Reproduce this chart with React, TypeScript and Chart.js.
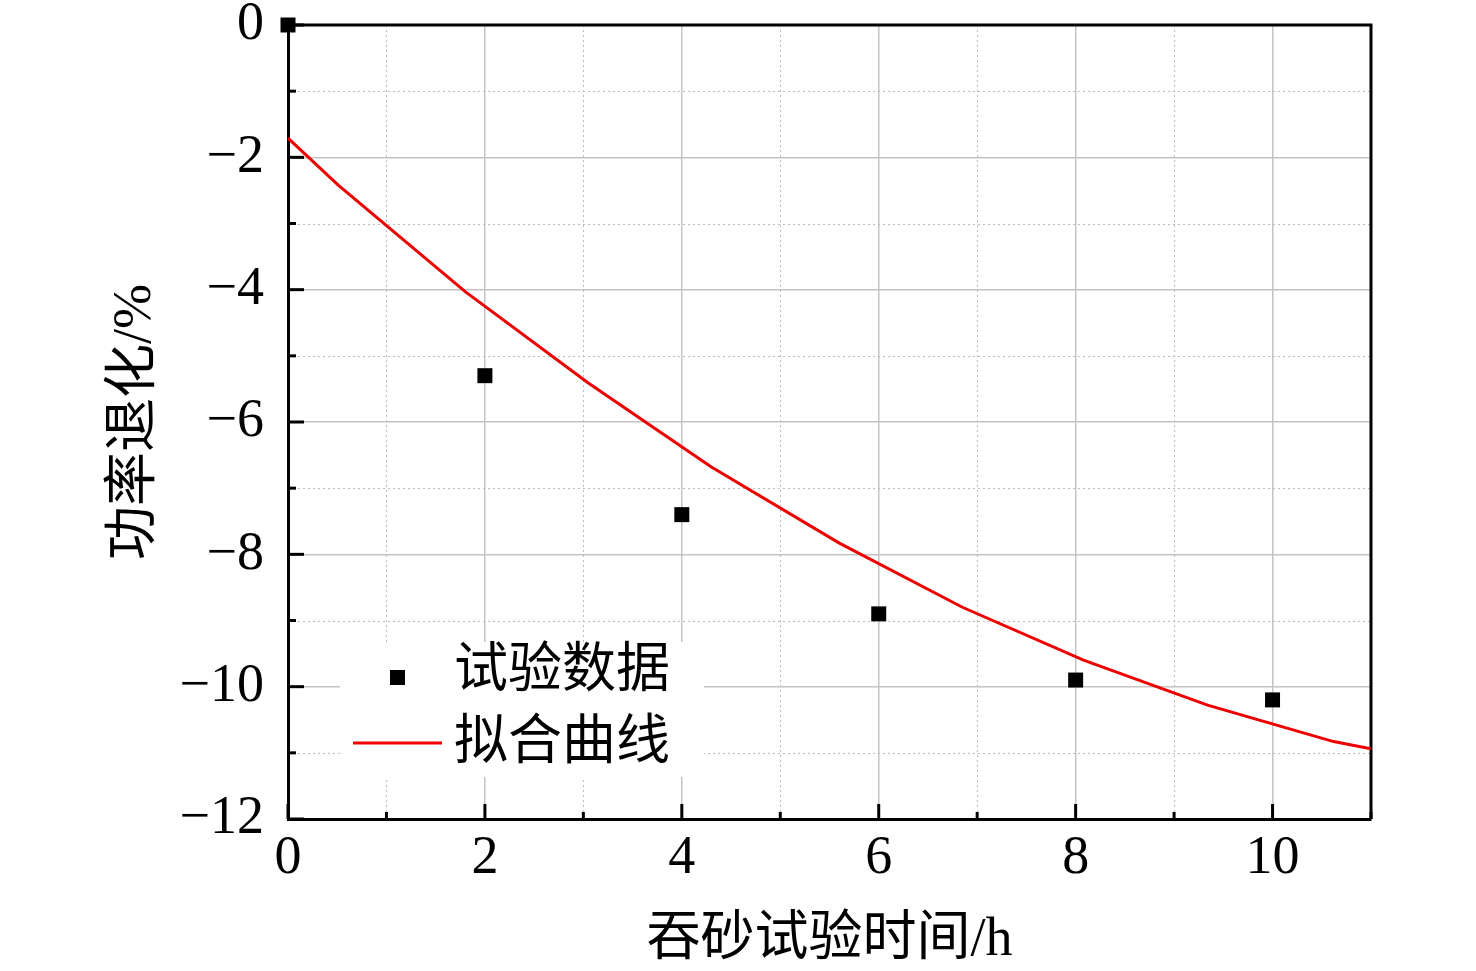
import { useEffect, useRef } from "react";
import { Chart, registerables } from "chart.js";

Chart.register(...registerables);

// test data (hours, degradation %)
const testHours = [0, 2, 4, 6, 8, 10];
const testDegradation = [0, -5.3, -7.4, -8.9, -9.9, -10.2];

// fitted curve
const fitHours = [0, 0.51, 1.8, 3.05, 4.3, 5.6, 6.85, 8.08, 9.34, 10.62, 11];
const fitDegradation = [-1.71, -2.42, -4.03, -5.41, -6.68, -7.83, -8.8, -9.6, -10.28, -10.83, -10.94];

const seriesLabels = ["试验数据", "拟合曲线"];
const xTitle = "吞砂试验时间/h";
const yTitle = "功率退化/%";

const FONT = '"Liberation Serif", "Noto Sans CJK SC", serif';
const RED = "#ee0000";
const GRID = "#c4c4c4";

const fmt = (v: number) => (v % 2 === 0 ? (v < 0 ? "\u2212" + Math.abs(v) : String(v)) : "");

const framePlugin = {
	id: "frame",
	beforeDatasetsDraw(chart: any) {
		const { ctx, chartArea: a, scales } = chart;
		const xs = scales.x;
		const ys = scales.y;
		ctx.save();

		// dotted minor grid
		ctx.strokeStyle = "#bbbbbb";
		ctx.lineWidth = 1;
		ctx.setLineDash([2, 3]);
		xs.ticks.forEach((t: any) => {
			if (t.value % 2 === 0) return;
			const px = Math.round(xs.getPixelForValue(t.value)) + 0.5;
			ctx.beginPath();
			ctx.moveTo(px, a.top);
			ctx.lineTo(px, a.bottom);
			ctx.stroke();
		});
		ys.ticks.forEach((t: any) => {
			if (t.value % 2 === 0) return;
			const py = Math.round(ys.getPixelForValue(t.value)) + 0.5;
			ctx.beginPath();
			ctx.moveTo(a.left, py);
			ctx.lineTo(a.right, py);
			ctx.stroke();
		});
		ctx.setLineDash([]);

		// top and right frame
		ctx.strokeStyle = "#000";
		ctx.lineWidth = 3;
		ctx.beginPath();
		ctx.moveTo(a.left, a.top);
		ctx.lineTo(a.right, a.top);
		ctx.lineTo(a.right, a.bottom);
		ctx.stroke();

		// inward ticks
		xs.ticks.forEach((t: any) => {
			const px = xs.getPixelForValue(t.value);
			const len = t.value % 2 === 0 ? 15 : 7;
			ctx.beginPath();
			ctx.moveTo(px, a.bottom);
			ctx.lineTo(px, a.bottom - len);
			ctx.stroke();
		});
		ys.ticks.forEach((t: any) => {
			const py = ys.getPixelForValue(t.value);
			const len = t.value % 2 === 0 ? 16 : 8;
			ctx.beginPath();
			ctx.moveTo(a.left, py);
			ctx.lineTo(a.left + len, py);
			ctx.stroke();
		});
		ctx.restore();
	},
	afterDatasetsDraw(chart: any) {
		const { ctx, chartArea: a } = chart;
		const ds = chart.data.datasets;
		ctx.save();
		ctx.fillStyle = "#fff";
		ctx.fillRect(a.left + 52, a.top + 617, 364, 135);

		// marker
		ctx.fillStyle = ds[0].backgroundColor;
		ctx.fillRect(a.left + 102, a.top + 645, 15, 15);
		// line
		ctx.strokeStyle = ds[1].borderColor;
		ctx.lineWidth = 3;
		ctx.beginPath();
		ctx.moveTo(a.left + 65, a.top + 718);
		ctx.lineTo(a.left + 154, a.top + 718);
		ctx.stroke();

		ctx.fillStyle = "#000";
		ctx.font = `54px ${FONT}`;
		ctx.textAlign = "left";
		ctx.textBaseline = "middle";
		ctx.fillText(ds[0].label, a.left + 166, a.top + 648);
		ctx.fillText(ds[1].label, a.left + 166, a.top + 720);
		ctx.restore();
	},
};

export default function App() {
	const canvasRef = useRef<HTMLCanvasElement>(null);

	useEffect(() => {
		document.body.style.margin = "0";
		if (!canvasRef.current) return;

		const chart = new Chart(canvasRef.current, {
			type: "scatter",
			data: {
				datasets: [
					{
						label: seriesLabels[0],
						data: testHours.map((x, i) => ({ x, y: testDegradation[i] })),
						backgroundColor: "#000",
						borderWidth: 0,
						pointStyle: "rect",
						pointRadius: 10.6,
						showLine: false,
						clip: false,
					},
					{
						label: seriesLabels[1],
						data: fitHours.map((x, i) => ({ x, y: fitDegradation[i] })),
						borderColor: RED,
						backgroundColor: RED,
						borderWidth: 3,
						pointRadius: 0,
						showLine: true,
						tension: 0,
					},
				],
			},
			options: {
				responsive: false,
				animation: false,
				layout: { padding: { top: 25, right: 105, bottom: 0, left: 0 } },
				plugins: {
					legend: { display: false },
					tooltip: { enabled: false },
				},
				scales: {
					x: {
						type: "linear",
						min: 0,
						max: 11,
						ticks: {
							stepSize: 1,
							autoSkip: false,
							maxRotation: 0,
							padding: 7,
							color: "#000",
							font: { family: FONT, size: 54 },
							callback: (v: any) => fmt(Number(v)),
						},
						grid: {
							drawTicks: false,
							lineWidth: 1.5,
							color: (c: any) => (c.tick && c.tick.value % 2 !== 0 ? "rgba(0,0,0,0)" : GRID),
						},
						border: { color: "#000", width: 3 },
						title: {
							display: true,
							text: xTitle,
							color: "#000",
							font: { family: FONT, size: 54, lineHeight: 1.1 },
							padding: { top: 0, bottom: 0 },
						},
						afterFit: (s: any) => {
							s.height = 152;
							s.paddingLeft = 0;
							s.paddingRight = 0;
						},
					},
					y: {
						type: "linear",
						min: -12,
						max: 0,
						ticks: {
							stepSize: 1,
							autoSkip: false,
							padding: 24,
							color: "#000",
							font: { family: FONT, size: 54 },
							callback: (v: any) => fmt(Number(v)),
						},
						grid: {
							drawTicks: false,
							lineWidth: 1.5,
							color: (c: any) => (c.tick && c.tick.value % 2 !== 0 ? "rgba(0,0,0,0)" : GRID),
						},
						border: { color: "#000", width: 3 },
						title: {
							display: true,
							text: yTitle,
							color: "#000",
							font: { family: FONT, size: 54, lineHeight: 1.2 },
							padding: { top: 103, bottom: 0 },
						},
						afterFit: (s: any) => {
							s.width = 288;
							s.paddingTop = 0;
							s.paddingBottom = 0;
						},
					},
				},
			},
			plugins: [framePlugin],
		});

		return () => chart.destroy();
	}, []);

	return (
		<div style={{ width: 1476, height: 971 }}>
			<canvas ref={canvasRef} width={1476} height={971} />
		</div>
	);
}
